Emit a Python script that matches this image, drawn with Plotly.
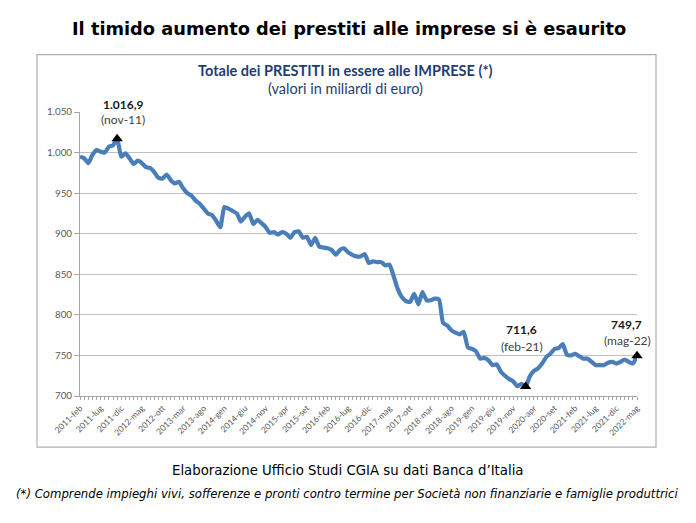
import plotly.graph_objects as go

# ---------------- data ----------------
tick_labels = ["2011-feb", "2011-lug", "2011-dic", "2012-mag", "2012-ott", "2013-mar", "2013-ago",
               "2014-gen", "2014-giu", "2014-nov", "2015-apr", "2015-set", "2016-feb", "2016-lug",
               "2016-dic", "2017-mag", "2017-ott", "2018-mar", "2018-ago", "2019-gen", "2019-giu",
               "2019-nov", "2020-apr", "2020-set", "2021-feb", "2021-lug", "2021-dic", "2022-mag"]

loans = [995, 993, 987, 997, 1003, 1001, 1000, 1007, 1009, 1016.9,
         995, 999, 993, 986, 990, 987, 982, 981, 976, 969,
         968, 973, 966, 962, 964, 956, 950, 947, 941, 937,
         931, 925, 923, 916, 908, 933, 931, 928, 925, 915,
         921, 925, 912, 917, 913, 908, 901, 902, 899, 902,
         900, 895, 902, 903, 895, 896, 886, 895, 884, 883,
         882, 880, 874, 880, 882, 877, 874, 872, 872, 875,
         864, 866, 865, 865, 861, 862, 848, 832, 822, 817,
         816, 826, 813, 828, 818, 818, 820, 819, 790, 787,
         781, 778, 776, 779, 760, 758, 755, 746, 747, 744,
         738, 739, 730, 725, 721, 718, 712, 715, 711.6, 724,
         731, 734, 740, 748, 752, 758, 759, 764, 751, 750,
         752, 749, 746, 746, 742, 738, 738, 738, 741, 742,
         740, 742, 745, 742, 740, 749.7]

y_ticks = [700, 750, 800, 850, 900, 950, 1000, 1050]
y_tick_text = ["700", "750", "800", "850", "900", "950", "1.000", "1.050"]

highlight_idx = [9, 108, 135]
highlight_value_text = ["1.016,9", "711,6", "749,7"]
highlight_period_text = ["(nov-11)", "(feb-21)", "(mag-22)"]

# ---------------- layout geometry ----------------
OFF = 8  # default page body margin
W, H = 696 - 2 * OFF, 523 - 2 * OFF
L, R, T, B = 80 - OFF, 637 - OFF, 112.3 - OFF, 396 - OFF
x_idx = list(range(len(loans)))


def px2x(px):
    return (px - OFF - L) / (R - L)


def py2y(py):
    return (B - (py - OFF)) / (B - T)


fig = go.Figure()

fig.add_trace(go.Scatter(
    x=x_idx, y=loans, mode="lines",
    line=dict(color="#4A7EBB", width=4.2, shape="spline", smoothing=0.5),
    hoverinfo="skip", showlegend=False))

fig.add_trace(go.Scatter(
    x=[x_idx[i] for i in highlight_idx], y=[loans[i] for i in highlight_idx],
    mode="markers", marker=dict(symbol="triangle-up", size=10, color="black"),
    cliponaxis=False, hoverinfo="skip", showlegend=False))

val_shift = [(6, 34.5), (-4, 56.6), (-11, 31.6)]
per_shift = [(6, 19.5), (-4, 40), (-10, 15.6)]
for k, i in enumerate(highlight_idx):
    fig.add_annotation(x=i, y=loans[i], text="<b>" + highlight_value_text[k] + "</b>",
                       showarrow=False, xshift=val_shift[k][0], yshift=val_shift[k][1],
                       xanchor="center", yanchor="middle",
                       font=dict(family="Lato", size=12, color="#1a1a1a"))
    fig.add_annotation(x=i, y=loans[i], text=highlight_period_text[k],
                       showarrow=False, xshift=per_shift[k][0], yshift=per_shift[k][1],
                       xanchor="center", yanchor="middle",
                       font=dict(family="Lato", size=12, color="#404040"))

# chart frame
fig.add_shape(type="rect", xref="paper", yref="paper",
              x0=px2x(37), x1=px2x(656), y0=py2y(447), y1=py2y(55),
              line=dict(color="#b0b0b0", width=1.2), layer="below")


def text_at(px, py, txt, font):
    fig.add_annotation(xref="paper", yref="paper", x=px2x(px), y=py2y(py), text=txt,
                       showarrow=False, xanchor="center", yanchor="middle", font=font)


text_at(349, 29, "<b>Il timido aumento dei prestiti alle imprese si è esaurito</b>",
        dict(family="DejaVu Sans", size=17.8, color="black"))
text_at(345, 71, "<b>Totale dei PRESTITI in essere alle IMPRESE (*)</b>",
        dict(family="Lato", size=14.5, color="#1F3D73"))
text_at(345, 89, "(valori in miliardi di euro)",
        dict(family="Lato", size=14.5, color="#1F3D73"))
text_at(348, 470, "Elaborazione Ufficio Studi CGIA su dati Banca d’Italia",
        dict(family="DejaVu Sans", size=13.3, color="black"))
text_at(347, 493, "<i>(*) Comprende impieghi vivi, sofferenze e pronti contro termine per Società non finanziarie e famiglie produttrici</i>",
        dict(family="DejaVu Sans Condensed, DejaVu Sans", size=13.0, color="black"))

fig.update_layout(
    width=W, height=H,
    margin=dict(l=L, r=W - R, t=T, b=H - B),
    paper_bgcolor="white", plot_bgcolor="white",
    xaxis=dict(range=[0, len(loans) - 1], tickmode="array",
               tickvals=list(range(0, len(loans), 5)), ticktext=tick_labels,
               tickangle=-45, tickfont=dict(family="Lato", size=8.5, color="#595959"),
               showgrid=False, zeroline=False, showline=True, linecolor="#a6a6a6",
               ticks="outside", ticklen=3, tickcolor="#a6a6a6",
               minor=dict(dtick=1, ticks="outside", ticklen=3, tickcolor="#a6a6a6", showgrid=False)),
    yaxis=dict(range=[700, 1050], tickmode="array", tickvals=y_ticks, ticktext=y_tick_text,
               tickfont=dict(family="Lato", size=9.8, color="#595959"),
               showgrid=True, gridcolor="#bfbfbf", gridwidth=1, zeroline=False,
               showline=True, linecolor="#a6a6a6", ticks="outside", ticklen=5, tickcolor="#a6a6a6"),
)

fig.write_html("out.html")
